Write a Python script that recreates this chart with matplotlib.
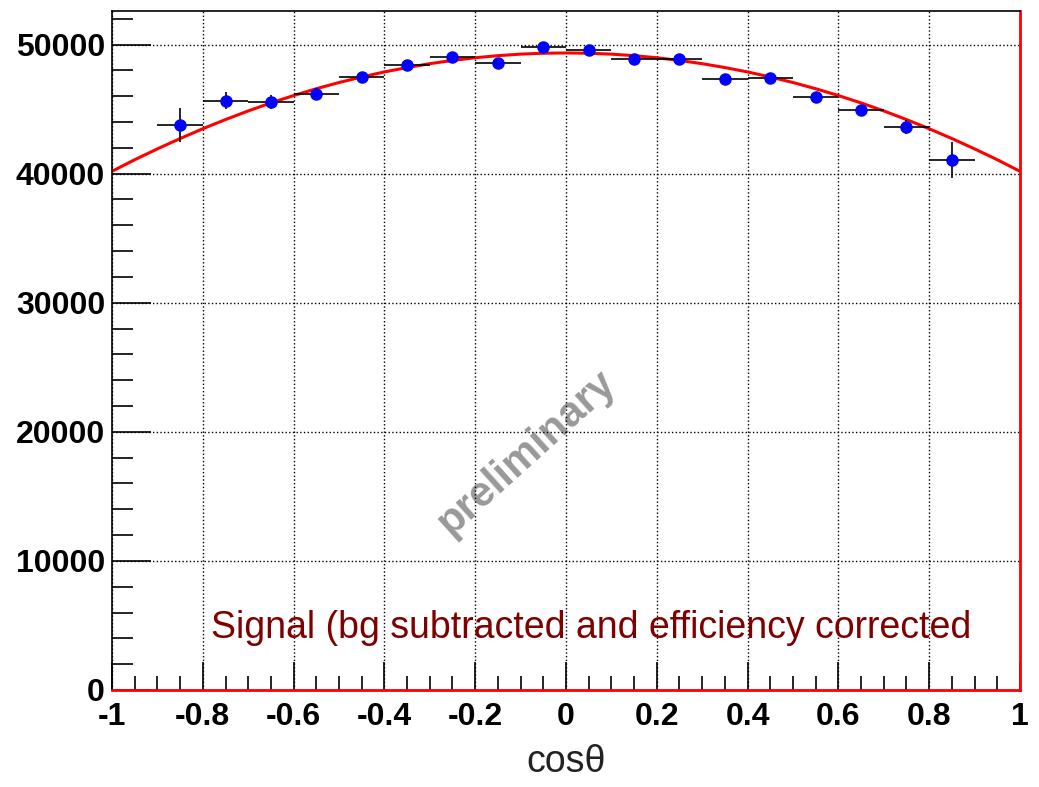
import matplotlib
matplotlib.use('Agg')
import matplotlib.pyplot as plt
from matplotlib.ticker import MultipleLocator, FuncFormatter

plt.rcParams['font.family'] = ['Liberation Sans', 'DejaVu Sans']

# Signal yield per cos(theta) bin (bg subtracted, efficiency corrected)
bin_centers = [-0.85, -0.75, -0.65, -0.55, -0.45, -0.35, -0.25, -0.15, -0.05,
               0.05, 0.15, 0.25, 0.35, 0.45, 0.55, 0.65, 0.75, 0.85]
signal = [43780, 45660, 45560, 46180, 47520, 48420, 49040, 48600, 49790,
          49610, 48860, 48890, 47340, 47420, 45940, 44940, 43590, 41030]
signal_err = [1300, 650, 550, 450, 300, 250, 250, 250, 200,
              200, 250, 250, 250, 300, 350, 400, 550, 1400]
bin_half_width = [0.05] * len(bin_centers)

# Fit curve, every 0.05
fit_x = [-1.0, -0.95, -0.9, -0.85, -0.8, -0.75, -0.7, -0.65, -0.6, -0.55, -0.5,
         -0.45, -0.4, -0.35, -0.3, -0.25, -0.2, -0.15, -0.1, -0.05, 0.0,
         0.05, 0.1, 0.15, 0.2, 0.25, 0.3, 0.35, 0.4, 0.45, 0.5,
         0.55, 0.6, 0.65, 0.7, 0.75, 0.8, 0.85, 0.9, 0.95, 1.0]
fit_y = [40180, 41080, 41920, 42720, 43480, 44190, 44860, 45480, 46050, 46580, 47060,
         47490, 47880, 48220, 48520, 48770, 48980, 49140, 49260, 49330, 49350,
         49330, 49260, 49140, 48980, 48770, 48520, 48220, 47880, 47490, 47060,
         46580, 46050, 45480, 44860, 44190, 43480, 42720, 41920, 41080, 40180]

fig = plt.figure(figsize=(10.39, 7.87), dpi=100)
ax = fig.add_axes([0.1078, 0.1233, 0.8739, 0.8627])

ax.plot(fit_x, fit_y, color='red', linewidth=2.2, zorder=2)
ax.errorbar(bin_centers, signal, xerr=bin_half_width, yerr=signal_err, fmt='o',
            color='blue', ecolor='black', elinewidth=1.2, markersize=8,
            capsize=0, zorder=3)

ax.set_xlim(-1, 1)
ax.set_ylim(0, 52600)

ax.xaxis.set_major_locator(MultipleLocator(0.2))
ax.xaxis.set_minor_locator(MultipleLocator(0.05))
ax.yaxis.set_major_locator(MultipleLocator(10000))
ax.yaxis.set_minor_locator(MultipleLocator(2000))
ax.xaxis.set_major_formatter(FuncFormatter(lambda v, p: ('%g' % round(v, 2))))

ax.tick_params(axis='both', which='both', direction='in', top=False, right=False,
               color='black')
ax.tick_params(axis='x', which='major', length=20, width=1.2, pad=9)
ax.tick_params(axis='x', which='minor', length=10, width=1.2)
ax.tick_params(axis='y', which='major', length=28, width=1.2, pad=5)
ax.tick_params(axis='y', which='minor', length=15, width=1.2)
for lab in ax.get_xticklabels() + ax.get_yticklabels():
    lab.set_fontsize(23)
    lab.set_fontweight('bold')

ax.grid(True, which='major', color='black', linestyle=':', linewidth=1.0)

for side in ['top', 'left']:
    ax.spines[side].set_color('black')
    ax.spines[side].set_linewidth(1.2)
for side in ['bottom', 'right']:
    ax.spines[side].set_color('red')
    ax.spines[side].set_linewidth(2)

ax.set_xlabel('cos\u03b8', fontsize=27, color='#222222', labelpad=8)

ax.text(0.528, 0.091, 'Signal (bg subtracted and efficiency corrected',
        transform=ax.transAxes, fontsize=27, color='#800000',
        ha='center', va='center')
ax.text(0.457, 0.349, 'preliminary', transform=ax.transAxes, fontsize=30,
        fontweight='bold', color='#999999', rotation=42,
        ha='center', va='center', zorder=1)

fig.savefig('out.png', dpi=100)
